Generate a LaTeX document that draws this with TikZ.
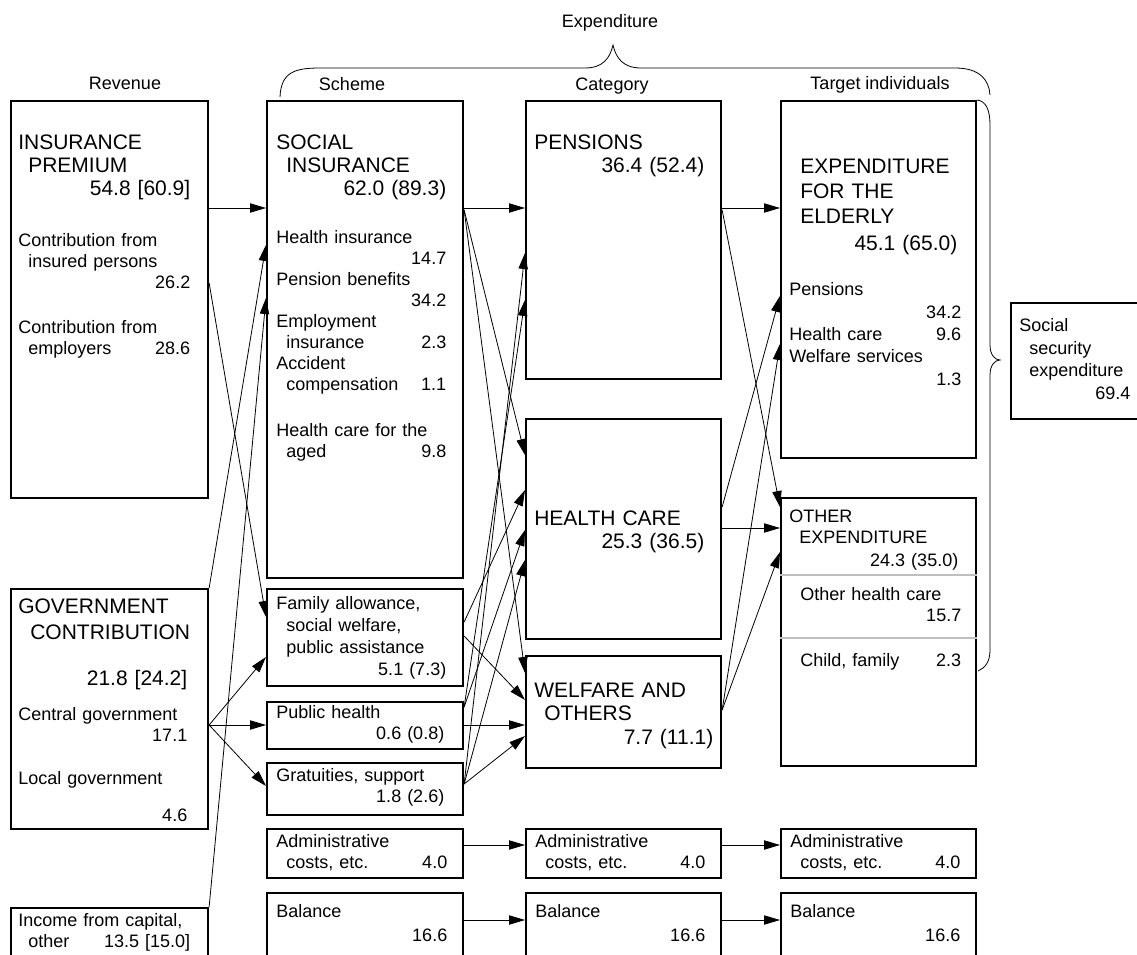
\documentclass[tikz,border=0pt]{standalone}
\usepackage{fontspec}
\setmainfont{Liberation Sans}
\usetikzlibrary{arrows.meta}
\newlength{\pix}\setlength{\pix}{0.75pt}
\setlength{\parindent}{0pt}

\begin{document}
\begin{tikzpicture}[
  x=0.75pt, y=-0.75pt,
  bx/.style n args={2}{
    draw, line width=1.6pt, rectangle, anchor=north west,
    inner sep=0pt, minimum width=#1\pix, minimum height=#2\pix
  },
  ttl/.style={anchor=north west, inner sep=0pt, align=left,
    font=\fontsize{15.75}{17.25}\selectfont, execute at begin node=\strut},
  txt/.style={anchor=north west, inner sep=0pt, align=left,
    font=\fontsize{13.5}{15.75}\selectfont, execute at begin node=\strut},
  hdr/.style={anchor=base, inner sep=0pt, font=\fontsize{13.5}{15.75}\selectfont},
  lnk/.style={-{Triangle[length=12pt,width=7pt]}, line width=0.6pt},
  sep/.style={draw=black!25, line width=2pt},
  brc/.style={line width=0.6pt},
]
\useasboundingbox (0,0) rectangle (1137,955);

%% column headers
\node[hdr] (hExp) at (610,28) {Expenditure};
\node[hdr] (hRev) at (125,90) {Revenue};
\node[hdr] (hSch) at (352,91) {Scheme};
\node[hdr] (hCat) at (612,91) {Category};
\node[hdr] (hTgt) at (880,90) {Target individuals};

%% revenue
\node[bx={197}{397}] (ins) at (10,100) {};
\node[ttl, text width=172\pix] (insT) at (18,133.4)
  {INSURANCE\\\hspace*{10\pix}PREMIUM\\\mbox{}\hfill 54.8 [60.9]};
\node[txt, text width=172\pix] (insD) at (18,231.8)
  {Contribution from\\\hspace*{10\pix}insured persons\\\mbox{}\hfill 26.2\\[24\pix]
   Contribution from\\\hspace*{10\pix}employers\hfill 28.6};

\node[bx={197}{240}] (gov) at (10,588) {};
\node[ttl, text width=186\pix] (govT) at (18,597.4)
  {GOVERNMENT\\[3\pix]\hspace*{12\pix}CONTRIBUTION\\[23\pix]
   \makebox[169\pix][r]{21.8 [24.2]}};
\node[txt, text width=169\pix] (govD) at (18,705.8)
  {Central government\\\mbox{}\hfill 17.1\\[22\pix]Local government\\[16\pix]\mbox{}\hfill 4.6};

\node[bx={197}{60}] (inc) at (10,907) {};
\node[txt, text width=172\pix] (incT) at (18,911.8)
  {Income from capital,\\\hspace*{10\pix}other\hfill 13.5 [15.0]};

%% scheme
\node[bx={196}{477}] (si) at (266,100) {};
\node[ttl, text width=170\pix] (siT) at (276,133.4)
  {SOCIAL\\\hspace*{10\pix}INSURANCE\\\mbox{}\hfill 62.0 (89.3)};
\node[txt, text width=170\pix] (siD) at (276,228.8)
  {Health insurance\\\mbox{}\hfill 14.7\\Pension benefits\\\mbox{}\hfill 34.2\\
   Employment\\\hspace*{10\pix}insurance\hfill 2.3\\
   Accident\\\hspace*{10\pix}compensation\hfill 1.1\\[25\pix]
   Health care for the\\\hspace*{10\pix}aged\hfill 9.8};

\node[bx={196}{97}] (fam) at (266,588) {};
\node[txt, text width=170\pix] (famT) at (276,594.8)
  {Family allowance,\\[1\pix]\hspace*{10\pix}social welfare,\\[1\pix]
   \hspace*{10\pix}public assistance\\[1\pix]\mbox{}\hfill 5.1 (7.3)};

\node[bx={196}{47}] (pub) at (266,701) {};
\node[txt, text width=168\pix] (pubT) at (276,703.8)
  {Public health\\\mbox{}\hfill 0.6 (0.8)};

\node[bx={196}{52}] (gra) at (266,762) {};
\node[txt, text width=168\pix] (graT) at (276,766.8)
  {Gratuities, support\\\mbox{}\hfill 1.8 (2.6)};

%% category
\node[bx={195}{278}] (pen) at (525,100) {};
\node[ttl, text width=170\pix] (penT) at (534,133.4)
  {PENSIONS\\\mbox{}\hfill 36.4 (52.4)};

\node[bx={195}{220}] (hc) at (525,418) {};
\node[ttl, text width=170\pix] (hcT) at (534,509.4)
  {HEALTH CARE\\\mbox{}\hfill 25.3 (36.5)};

\node[bx={195}{112}] (wel) at (525,655) {};
\node[ttl, text width=179\pix] (welT) at (534,681.4)
  {WELFARE AND\\\hspace*{10\pix}OTHERS\\[1\pix]\mbox{}\hfill 7.7 (11.1)};

%% target individuals
\node[bx={195}{357}] (eld) at (780,100) {};
\node[ttl, text width=157\pix] (eldT) at (800,157.4)
  {EXPENDITURE\\[2\pix]FOR THE\\[2\pix]ELDERLY\\[4\pix]\mbox{}\hfill 45.1 (65.0)};
\node[txt, text width=172\pix] (eldD) at (789,280.8)
  {Pensions\\[2\pix]\mbox{}\hfill 34.2\\[1\pix]Health care\hfill 9.6\\[1\pix]
   Welfare services\\[2\pix]\mbox{}\hfill 1.3};

\node[bx={195}{268}] (oth) at (780,497) {};
\node[txt, text width=169\pix] (othT) at (789,507.8)
  {OTHER\\\hspace*{10\pix}EXPENDITURE\\[2\pix]\mbox{}\hfill 24.3 (35.0)};
\draw[sep] (oth.west |- 0,575) -- (oth.east |- 0,575);
\draw[sep] (oth.west |- 0,638) -- (oth.east |- 0,638);
\node[txt, text width=161\pix] (othD) at (800,585.8)
  {Other health care\\\mbox{}\hfill 15.7};
\node[txt, text width=161\pix] (othE) at (800,651.8)
  {Child, family\hfill 2.3};

\node[bx={131}{116}] (ssx) at (1010,302) {};
\node[txt, text width=111\pix] (ssxT) at (1019,316.8)
  {Social\\[1.5\pix]\hspace*{10\pix}security\\[1.5\pix]
   \hspace*{10\pix}expenditure\\[1.5\pix]\mbox{}\hfill 69.4};

%% administrative costs and balance rows
\node[bx={196}{49}] (admA) at (266,828) {};
\node[bx={195}{49}] (admB) at (525,828) {};
\node[bx={195}{49}] (admC) at (780,828) {};
\node[txt, text width=171\pix] (admAT) at (276,832.8)
  {Administrative\\\hspace*{10\pix}costs, etc.\hfill 4.0};
\node[txt, text width=170\pix] (admBT) at (535,832.8)
  {Administrative\\\hspace*{10\pix}costs, etc.\hfill 4.0};
\node[txt, text width=170\pix] (admCT) at (790,832.8)
  {Administrative\\\hspace*{10\pix}costs, etc.\hfill 4.0};

\node[bx={196}{70}] (balA) at (266,892) {};
\node[bx={195}{70}] (balB) at (525,892) {};
\node[bx={195}{70}] (balC) at (780,892) {};
\node[txt, text width=171\pix] (balAT) at (276,902.8) {Balance\\[3\pix]\mbox{}\hfill 16.6};
\node[txt, text width=170\pix] (balBT) at (535,902.8) {Balance\\[3\pix]\mbox{}\hfill 16.6};
\node[txt, text width=170\pix] (balCT) at (790,902.8) {Balance\\[3\pix]\mbox{}\hfill 16.6};

%% braces
\draw[brc] (280,97) .. controls (281,72) and (295,68) .. (320,68)
  -- (585,68) .. controls (603,68) and (610,58) .. (613,45)
  .. controls (616,58) and (623,68) .. (641,68)
  -- (955,68) .. controls (980,68) and (989,80) .. (990,95);
\draw[brc] (977,100) .. controls (986,101) and (990,110) .. (990,125)
  -- (990,345) .. controls (990,355) and (995,360) .. (1000,360)
  .. controls (995,360) and (990,365) .. (990,375)
  -- (990,650) .. controls (990,662) and (985,668) .. (978,671);

%% revenue -> scheme
\draw[lnk] (ins.east |- 0,208) -- (si.west |- 0,208);
\draw[lnk] (ins.east |- 0,283) -- (fam.west |- 0,617);
\draw[lnk] (gov.north east) -- (si.west |- 0,245);
\draw[lnk] (inc.north east) -- (si.west |- 0,298);
\draw[lnk] (gov.east |- 0,725) -- (fam.west |- 0,657);
\draw[lnk] (gov.east |- 0,725) -- (pub.west |- 0,725);
\draw[lnk] (gov.east |- 0,725) -- (gra.west |- 0,786);

%% scheme -> category
\draw[lnk] (si.east |- 0,208) -- (pen.west |- 0,208);
\draw[lnk] (si.east |- 0,210) -- (hc.west |- 0,455);
\draw[lnk] (si.east |- 0,210) -- (wel.west |- 0,673);
\draw[lnk] (fam.east |- 0,622) -- (hc.west |- 0,490);
\draw[lnk] (fam.east |- 0,636) -- (wel.west |- 0,700);
\draw[lnk] (pub.east |- 0,707) -- (pen.west |- 0,300);
\draw[lnk] (pub.east |- 0,707) -- (hc.west |- 0,530);
\draw[lnk] (pub.east |- 0,725) -- (wel.west |- 0,725);
\draw[lnk] (gra.east |- 0,784) -- (pen.west |- 0,253);
\draw[lnk] (gra.east |- 0,784) -- (hc.west |- 0,560);
\draw[lnk] (gra.east |- 0,784) -- (wel.west |- 0,736);

%% category -> target individuals
\draw[lnk] (pen.east |- 0,208) -- (eld.west |- 0,208);
\draw[lnk] (pen.east |- 0,210) -- (oth.west |- 0,507);
\draw[lnk] (hc.east |- 0,507) -- (eld.west |- 0,296);
\draw[lnk] (hc.east |- 0,528) -- (oth.west |- 0,528);
\draw[lnk] (wel.east |- 0,710) -- (eld.west |- 0,344);
\draw[lnk] (wel.east |- 0,710) -- (oth.west |- 0,552);

%% administrative costs, balance
\draw[lnk] (admA.east |- 0,845) -- (admB.west |- 0,845);
\draw[lnk] (admB.east |- 0,845) -- (admC.west |- 0,845);
\draw[lnk] (balA.east |- 0,920) -- (balB.west |- 0,920);
\draw[lnk] (balB.east |- 0,920) -- (balC.west |- 0,920);
\end{tikzpicture}
\end{document}
